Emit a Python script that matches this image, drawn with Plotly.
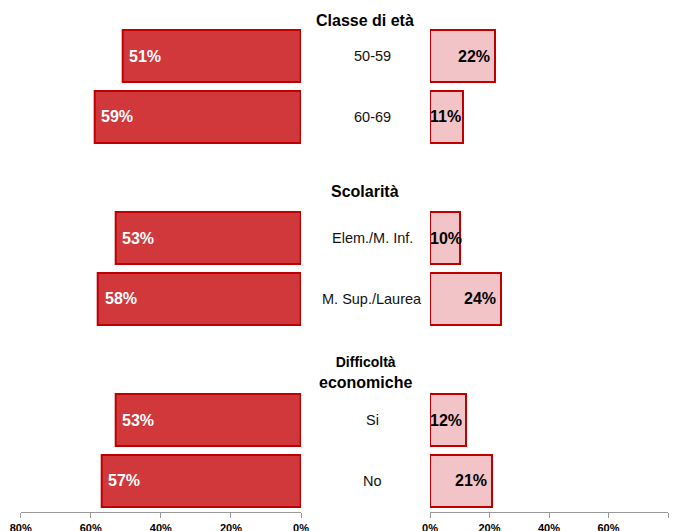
import plotly.graph_objects as go

# ---- data ----
groups = ["Classe di età", "Scolarità", "Difficoltà economiche"]
categories = [["50-59", "60-69"],
              ["Elem./M. Inf.", "M. Sup./Laurea"],
              ["Si", "No"]]
left_values = [[51, 59], [53, 58], [53, 57]]
right_values = [[22, 11], [10, 24], [12, 21]]
tick_vals = [0, 20, 40, 60, 80]
tick_text = ["0%", "20%", "40%", "60%", "80%"]

# ---- layout helpers (row slots: each group uses 2 rows + 1 spacer) ----
ys, cats, lv, rv = [], [], [], []
for gi, (cs, ls, rs) in enumerate(zip(categories, left_values, right_values)):
    for ci, (c, l, r) in enumerate(zip(cs, ls, rs)):
        slot = gi * 3 + ci
        ys.append(-slot)
        cats.append(c)
        lv.append(l)
        rv.append(r)

RED = "#c00000"
LEFT_FILL = "#d0383c"
RIGHT_FILL = "#f2c3c7"
FONT = "Liberation Sans, Arial, sans-serif"
W, H = 678, 531

fig = go.Figure()
fig.add_trace(go.Bar(
    x=lv, y=ys, orientation="h", xaxis="x", yaxis="y", width=0.86,
    marker=dict(color=LEFT_FILL, line=dict(color=RED, width=2)),
    hoverinfo="x", showlegend=False))
fig.add_trace(go.Bar(
    x=rv, y=ys, orientation="h", xaxis="x2", yaxis="y", width=0.86,
    marker=dict(color=RIGHT_FILL, line=dict(color=RED, width=2)),
    hoverinfo="x", showlegend=False))

annotations = []
for y, c, l, r in zip(ys, cats, lv, rv):
    annotations.append(dict(x=372 / W, xref="paper", y=y, yref="y", text=c,
                            showarrow=False, xanchor="center", yanchor="middle",
                            font=dict(family=FONT, size=14.5, color="#111")))
    annotations.append(dict(x=l, xref="x", y=y, yref="y", text=f"<b>{l}%</b>",
                            showarrow=False, xanchor="left", yanchor="middle",
                            xshift=5,
                            font=dict(family=FONT, size=16, color="white")))
    if r >= 18:
        annotations.append(dict(x=r, xref="x2", y=y, yref="y", text=f"<b>{r}%</b>",
                                showarrow=False, xanchor="right", yanchor="middle",
                                xshift=-3,
                                font=dict(family=FONT, size=16, color="black")))
    else:
        annotations.append(dict(x=0, xref="x2", y=y, yref="y", text=f"<b>{r}%</b>",
                                showarrow=False, xanchor="left", yanchor="middle",
                                xshift=-2,
                                font=dict(family=FONT, size=16, color="black")))

header_y = [0.593, -2.224, -5.21]
for g, hy in zip(groups, header_y):
    if g.startswith("Difficolt"):
        first, second = g.split(" ", 1)
        txt = f"<b><span style='font-size:14px'>{first}</span><br>{second}</b>"
    else:
        txt = f"<b>{g}</b>"
    annotations.append(dict(x=365 / W, xref="paper", y=hy, yref="y", text=txt,
                            showarrow=False, xanchor="center", yanchor="middle",
                            font=dict(family=FONT, size=16, color="black")))

axis_common = dict(
    tickvals=tick_vals, ticktext=tick_text, showgrid=False, zeroline=False,
    showline=True, linecolor="#999999", linewidth=1, automargin=False,
    ticks="outside", ticklen=5, tickcolor="#999999", ticklabelstandoff=1,
    tickfont=dict(family=FONT, size=11, color="black", weight="bold"),
    anchor="y", fixedrange=True)

fig.update_layout(
    width=W, height=H,
    margin=dict(l=0, r=0, t=0, b=19),
    paper_bgcolor="white", plot_bgcolor="white",
    xaxis=dict(domain=[20.7 / W, 301 / W], range=[80, 0], **axis_common),
    xaxis2=dict(domain=[430 / W, 668 / W], range=[0, 80], **axis_common),
    yaxis=dict(range=[-7.512, 0.9226], visible=False, fixedrange=True),
    annotations=annotations,
    bargap=0,
)

fig.write_html(
    "out.html",
    config={"displayModeBar": False},
    post_script="document.body.style.margin='0';document.body.style.overflow='hidden';",
)
